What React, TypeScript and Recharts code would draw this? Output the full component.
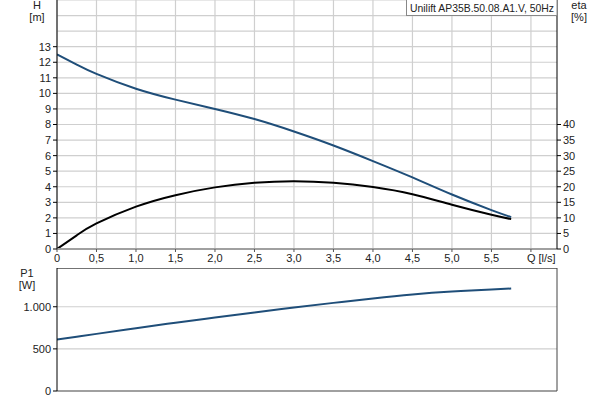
import { LineChart, Line, XAxis, YAxis, CartesianGrid, ReferenceLine } from "recharts"

// flow rate Q [l/s]
const flow = [0, 0.25, 0.5, 1.0, 1.5, 2.0, 2.5, 3.0, 3.5, 4.0, 4.5, 5.0, 5.5, 5.75]
// head H [m]
const head = [12.5, 11.85, 11.25, 10.3, 9.6, 9.0, 8.35, 7.55, 6.65, 5.65, 4.6, 3.5, 2.5, 2.05]
// efficiency eta [%]
const eta = [0, 4.4, 8.2, 13.6, 17.3, 19.8, 21.3, 21.8, 21.3, 19.9, 17.6, 14.2, 11.0, 9.6]
// power P1 [W]
const power = [610, 644, 678, 746, 810, 873, 933, 992, 1046, 1098, 1145, 1180, 1205, 1217]

const qTicks = [0, 0.5, 1.0, 1.5, 2.0, 2.5, 3.0, 3.5, 4.0, 4.5, 5.0, 5.5, 6.0]
const hTicks = [0, 1, 2, 3, 4, 5, 6, 7, 8, 9, 10, 11, 12, 13]
const hGrid = [0, 1, 2, 3, 4, 5, 6, 7, 8, 9, 10, 11, 12, 13, 14, 15, 16]
const etaTicks = [0, 5, 10, 15, 20, 25, 30, 35, 40]
const pTicks = [0, 500, 1000]

const title = "Unilift AP35B.50.08.A1.V, 50Hz"

const data = flow.map((q, i) => ({ q, h: head[i], eta: eta[i], p1: power[i] }))

const FONT = "'Liberation Sans', Arial, sans-serif"
const TXT = "#222"
const BLUE = "#1f4e79"
const GRID = "#cfcfcf"

const QTick = ({ x, y, payload }: any) => {
  const v = payload.value
  if (v === 6) {
    return (
      <text x={x - 4} y={y} dy="0.71em" textAnchor="start" fontSize={11} fill={TXT} fontFamily={FONT}>
        Q [l/s]
      </text>
    )
  }
  const label = v === 0 ? "0" : v.toFixed(1).replace(".", ",")
  return (
    <text x={x} y={y} dy="0.71em" textAnchor="middle" fontSize={11} fill={TXT} fontFamily={FONT}>
      {label}
    </text>
  )
}

const tickStyle = { fontSize: 11, fill: TXT, fontFamily: FONT }

export default function App() {
  return (
    <div style={{ position: "absolute", left: 0, top: 0, width: 600, height: 400, background: "#fff" }}>
      <div style={{ position: "absolute", left: 0, top: 0 }}>
        <LineChart width={600} height={270} data={data} margin={{ top: 0, right: 0, bottom: 0, left: 0 }}>
          <CartesianGrid
            yAxisId="h"
            stroke={GRID}
            strokeWidth={1.2}
            horizontalValues={hGrid}
            verticalValues={qTicks}
          />
          <XAxis
            dataKey="q"
            type="number"
            domain={[0, 6.33]}
            ticks={qTicks}
            height={21}
            tick={<QTick />}
            tickSize={3}
            tickMargin={2}
            axisLine={{ stroke: "#a0a0a0", strokeWidth: 2 }}
            tickLine={{ stroke: "#555" }}
            interval={0}
            allowDataOverflow
          />
          <YAxis
            yAxisId="h"
            domain={[0, 16]}
            ticks={hTicks}
            width={57}
            tick={tickStyle}
            tickSize={4}
            tickMargin={2}
            axisLine={{ stroke: "#000" }}
            tickLine={{ stroke: "#000" }}
            interval={0}
            allowDataOverflow
          />
          <YAxis
            yAxisId="eta"
            orientation="right"
            domain={[0, 80]}
            ticks={etaTicks}
            width={43}
            tick={tickStyle}
            tickSize={4}
            tickMargin={2}
            axisLine={{ stroke: "#000" }}
            tickLine={{ stroke: "#000" }}
            interval={0}
            allowDataOverflow
          />
          <Line
            yAxisId="h"
            dataKey="h"
            type="natural"
            stroke={BLUE}
            strokeWidth={2}
            dot={false}
            isAnimationActive={false}
          />
          <Line
            yAxisId="eta"
            dataKey="eta"
            type="natural"
            stroke="#000"
            strokeWidth={2}
            dot={false}
            isAnimationActive={false}
          />
        </LineChart>
      </div>
      <div style={{ position: "absolute", left: 0, top: 268 }}>
        <LineChart width={600} height={132} data={data} margin={{ top: 0, right: 0, bottom: 7, left: 0 }}>
          <CartesianGrid yAxisId="p" stroke={GRID} strokeWidth={1.2} verticalValues={qTicks} horizontalValues={pTicks} />
          <XAxis
            dataKey="q"
            type="number"
            domain={[0, 6.33]}
            ticks={qTicks}
            height={2}
            tick={false}
            tickLine={false}
            axisLine={{ stroke: "#a0a0a0", strokeWidth: 2 }}
            allowDataOverflow
          />
          <YAxis
            yAxisId="p"
            domain={[0, 1460]}
            ticks={pTicks}
            width={57}
            tick={tickStyle}
            tickFormatter={(v: number) => (v >= 1000 ? v.toLocaleString("de-DE") : String(v))}
            tickSize={4}
            tickMargin={2}
            axisLine={{ stroke: "#000" }}
            tickLine={{ stroke: "#000" }}
            interval={0}
            allowDataOverflow
          />
          <YAxis
            yAxisId="r"
            orientation="right"
            domain={[0, 1460]}
            width={43}
            tick={false}
            tickLine={false}
            axisLine={{ stroke: "#444" }}
          />
          <ReferenceLine yAxisId="p" y={1460} stroke="#444" strokeWidth={1.5} />
          <Line
            yAxisId="p"
            dataKey="p1"
            type="natural"
            stroke={BLUE}
            strokeWidth={2}
            dot={false}
            isAnimationActive={false}
          />
        </LineChart>
      </div>
      <svg
        width={600}
        height={400}
        style={{ position: "absolute", left: 0, top: 0, pointerEvents: "none" }}
        fontFamily={FONT}
        fontSize={11}
        fill={TXT}
      >
        <text x={37} y={9} textAnchor="middle">H</text>
        <text x={37} y={21} textAnchor="middle">[m]</text>
        <text x={579} y={9} textAnchor="middle">eta</text>
        <text x={579} y={21} textAnchor="middle">[%]</text>
        <text x={27} y={277} textAnchor="middle">P1</text>
        <text x={27} y={289} textAnchor="middle">[W]</text>
        <rect x={406.5} y={-1} width={150.5} height={16.5} fill="#fff" stroke="#888" />
        <text x={410} y={11.5} fill={TXT} textLength={144} lengthAdjust="spacingAndGlyphs">{title}</text>
      </svg>
    </div>
  )
}
